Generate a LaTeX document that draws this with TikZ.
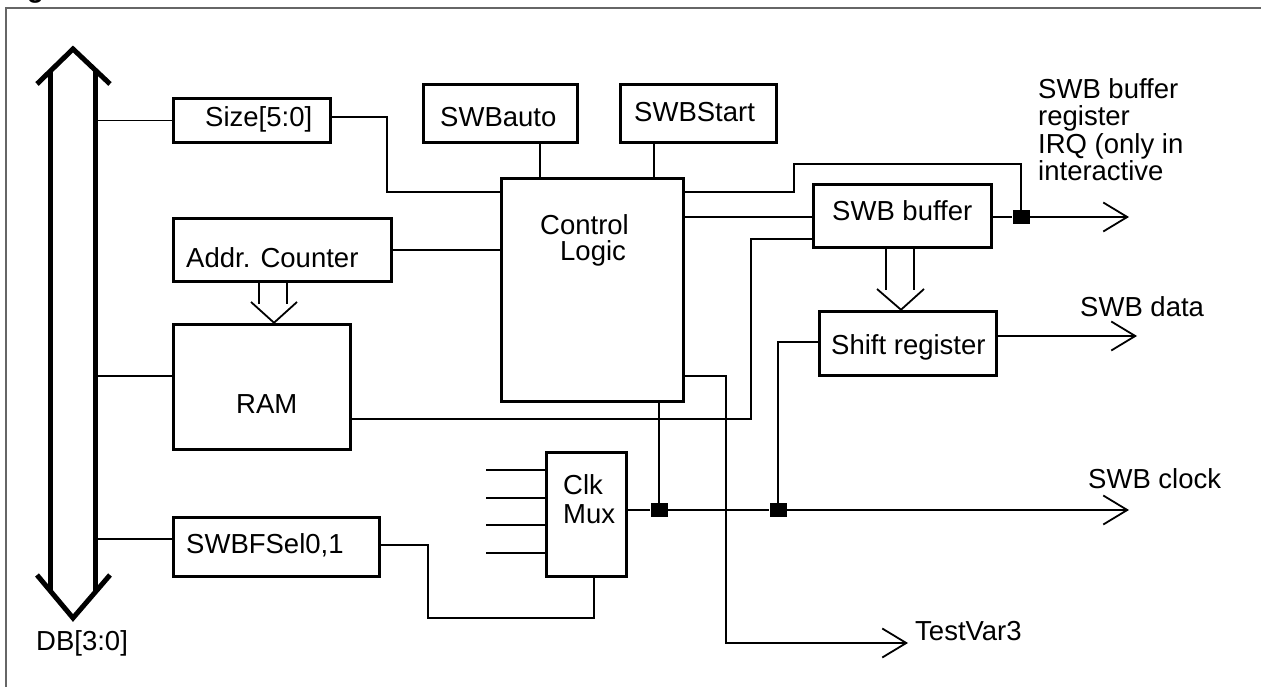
\documentclass[tikz,border=0pt]{standalone}
\usepackage{fontspec}
\setmainfont{Liberation Sans}
\usetikzlibrary{arrows.meta}
\begin{document}
\begin{tikzpicture}[x=1pt,y=-1pt,
  blk/.style={draw, line width=3.5pt, inner sep=0pt},
  txt/.style={font=\fontsize{27.5}{28}\selectfont, inner sep=0pt, anchor=base west},
  wire/.style={line width=1.8pt},
  sig/.style={wire, -{Straight Barb[length=24pt,width=29pt]}},
  junc/.style={fill=black, inner sep=0pt, minimum width=17pt, minimum height=14pt},
  busline/.style={line width=5pt},
  frame/.style={draw=black!60, line width=1.6pt}]
\useasboundingbox (0,0) rectangle (1261,687);
\clip (0,0) rectangle (1261,687);
\node[txt, font=\bfseries\fontsize{27.5}{28}\selectfont] (fig) at (2.5,-2) {Fig};
\draw[frame] (6,700) -- (6,8) -- (1270,8);

% data bus
\coordinate (busR) at (95,0);
\draw[busline] (50,71) -- (50,591) (95,70) -- (95,593);
\draw[busline] (37,84) -- (73,49) -- (110,84);
\draw[busline] (37,575) -- (73,618) -- (110,575);
\node[txt] (db) at (36,650) {DB[3:0]};

% boxes
\node[blk, minimum width=157pt, minimum height=44pt] (size) at (252,120.5) {};
\node[txt] (sizet) at (205,127) {Size[5:0]};
\node[blk, minimum width=154pt, minimum height=58pt] (auto) at (500.5,113.5) {};
\node[txt] (autot) at (440,127) {SWBauto};
\node[blk, minimum width=156pt, minimum height=58pt] (start) at (698.5,113.5) {};
\node[txt] (startt) at (634,122) {SWBStart};
\node[blk, minimum width=182pt, minimum height=223pt] (ctrl) at (592.5,290) {};
\node[txt] (ctrlt1) at (540,234) {Control};
\node[txt] (ctrlt2) at (560,261) {Logic};
\node[blk, minimum width=178pt, minimum height=63pt] (buf) at (902.5,216) {};
\node[txt] (buft) at (832,221) {SWB buffer};
\node[blk, minimum width=177pt, minimum height=64pt] (shift) at (908,343.5) {};
\node[txt] (shiftt) at (831,354) {Shift register};
\node[blk, minimum width=218pt, minimum height=63pt] (addr) at (282.5,250) {};
\node[txt] (addrt) at (186,267) {Addr. Counter};
\node[blk, minimum width=177pt, minimum height=125pt] (ram) at (262,387) {};
\node[txt] (ramt) at (236,413) {RAM};
\node[blk, minimum width=206pt, minimum height=59pt] (sel) at (276.5,547) {};
\node[txt] (selt) at (186,553) {SWBFSel0,1};
\node[blk, minimum width=80pt, minimum height=124pt] (mux) at (586.5,514.5) {};
\node[txt] (muxt1) at (563,494) {Clk};
\node[txt] (muxt2) at (563,523) {Mux};

% output labels
\node[txt] (irq1) at (1038,99) {SWB buffer};
\node[txt] (irq2) at (1038,126) {register};
\node[txt] (irq3) at (1038,154) {IRQ (only in};
\node[txt] (irq4) at (1038,181) {interactive};
\node[txt] (datat) at (1080,316) {SWB data};
\node[txt] (clockt) at (1088,488) {SWB clock};
\node[txt] (testt) at (915,640) {TestVar3};

% junctions
\node[junc] (j1) at (1021,217) {};
\node[junc] (j2) at (778,510) {};
\node[junc] (j3) at (659,510) {};

% output coordinates
\coordinate (o1) at (1129,217);
\coordinate (o2) at (1137,336);
\coordinate (o3) at (1129,510);
\coordinate (o4) at (908,643);

% wires
\draw[wire] (busR |- size.west) -- (size.west);
\draw[wire] (busR |- 0,376) -- (ram.west |- 0,376);
\draw[wire] (busR |- 0,539) -- (sel.west |- 0,539);
\draw[wire] (size.east |- 0,117) -- (387,117) -- (387,192) -- (ctrl.west |- 0,192);
\draw[wire] (auto.south -| 540,0) -- (ctrl.north -| 540,0);
\draw[wire] (start.south -| 654,0) -- (ctrl.north -| 654,0);
\draw[wire] (addr.east) -- (addr.east -| ctrl.west);
\draw[wire] (ctrl.east |- 0,192) -- (794,192) -- (794,164) -- (1021,164) -- (j1.north);
\draw[wire] (ctrl.east |- 0,217) -- (buf.west |- 0,217);
\draw[wire] (ram.east |- 0,419) -- (751,419) -- (751,239) -- (buf.west |- 0,239);
\draw[wire] (buf.east |- j1) -- (j1.west);
\draw[sig] (j1.east) -- (o1);
\draw[sig] (shift.east |- 0,336) -- (o2);
\draw[wire] (j2.north) -- (778,342) -- (shift.west |- 0,342);
\draw[wire] (ctrl.south -| j3) -- (j3.north);
\draw[wire] (mux.east |- j3) -- (j3.west);
\draw[wire] (j3.east) -- (j2.west);
\draw[sig] (j2.east) -- (o3);
\draw[sig] (ctrl.east |- 0,376) -- (726,376) -- (726,643) -- (o4);
\draw[wire] (sel.east |- 0,545) -- (428,545) -- (428,618) -- (594,618) -- (mux.south -| 594,0);
\foreach \yy/\nm in {470/i1,498/i2,525/i3,553/i4}{
  \coordinate (\nm) at (486,\yy);
  \draw[wire] (\nm) -- (mux.west |- \nm);
}

% wide arrows
\draw[wire] (addr.south -| 259,0) -- (259,304) (addr.south -| 287,0) -- (287,304);
\draw[wire] (251,302) -- (ram.north -| 274,0) -- (297,302);
\draw[wire] (buf.south -| 886,0) -- (886,290) (buf.south -| 914,0) -- (914,290);
\draw[wire] (877,289) -- (shift.north -| 901,0) -- (924,289);
\end{tikzpicture}
\end{document}
